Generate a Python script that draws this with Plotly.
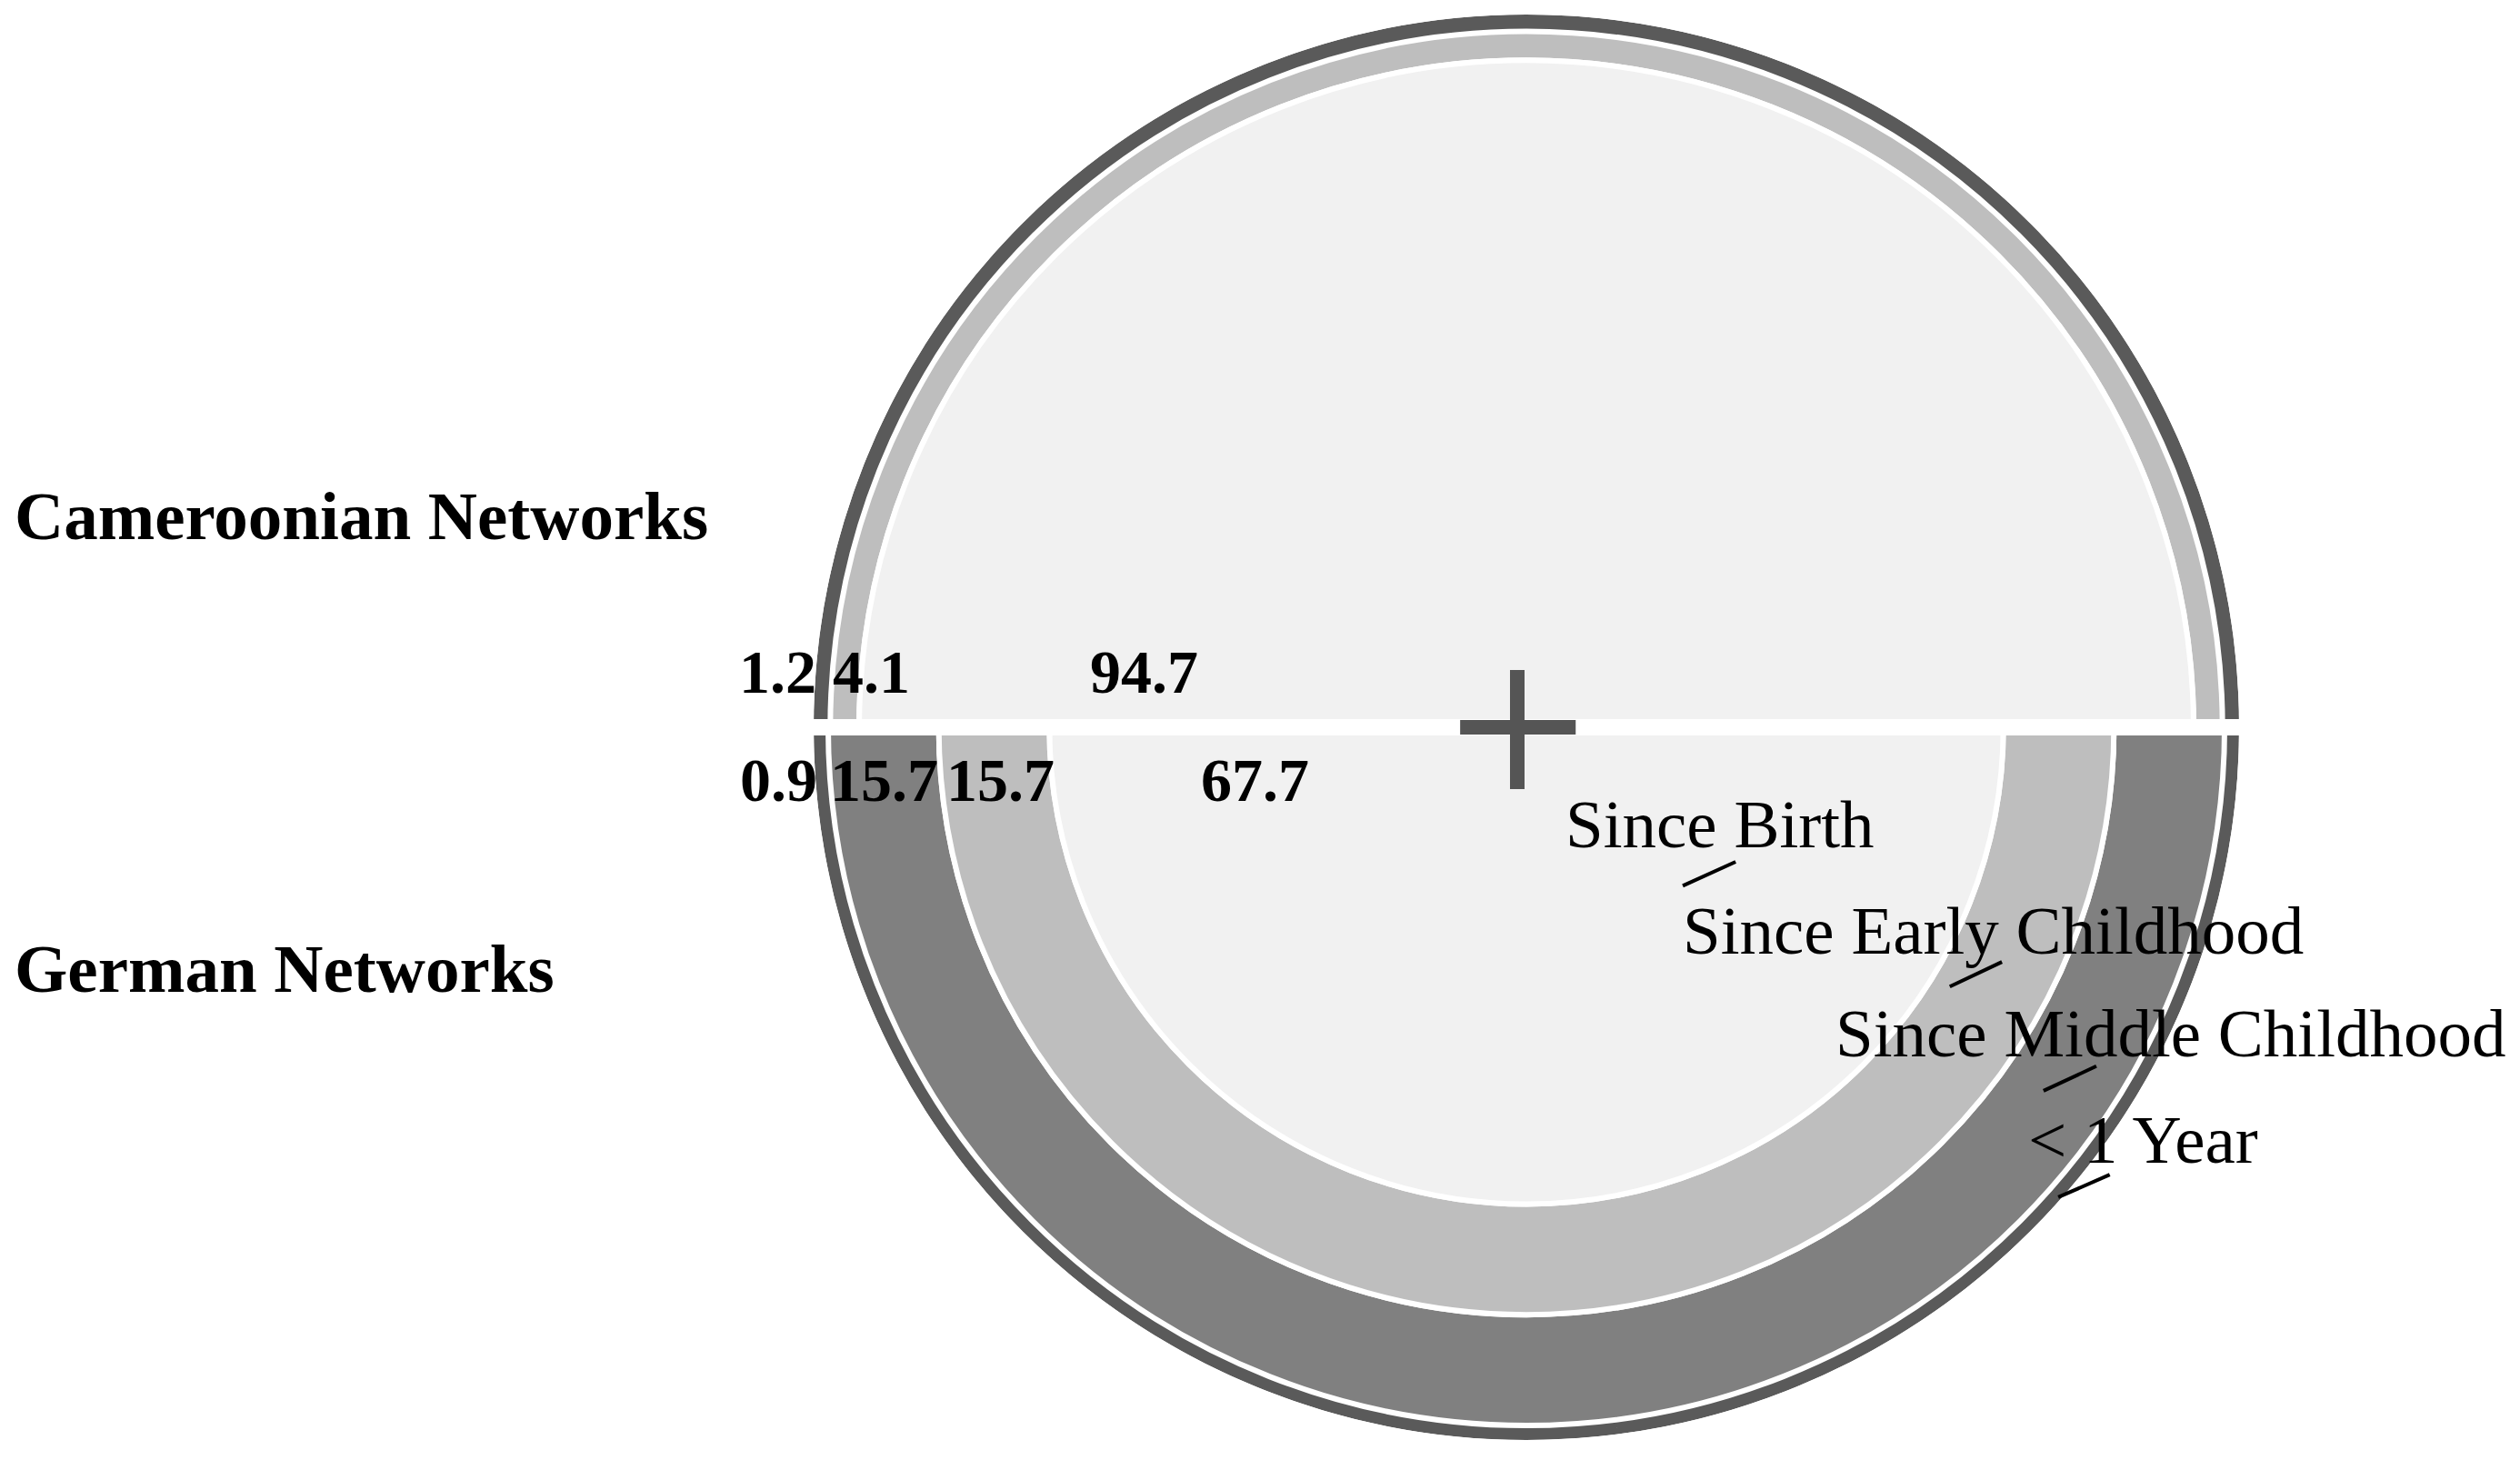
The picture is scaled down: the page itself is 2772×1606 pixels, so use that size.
import numpy as np
import plotly.graph_objects as go

# ---- data: share of network members known for ... (percent) ----
groups = ["Cameroonian Networks", "German Networks"]
categories = ["Since Birth", "Since Early Childhood", "Since Middle Childhood", "< 1 Year"]
cameroon = [94.7, 4.1, 0.0, 1.2]
german = [67.7, 15.7, 15.7, 0.9]

colours = ["#f1f1f1", "#bebebe", "#808080", "#5a5a5a"]

# where the value labels sit along the left radius (axis units, outward = larger)
cam_label_r = [54.3, 93.0, None, 106.2]
ger_label_r = [38.5, 74.6, 91.2, 106.1]

# category labels (left edge, middle) and their short leader ticks, axis units
cat_label_pos = [(5.3, -13.8), (21.9, -28.8), (43.6, -43.4), (71.0, -58.5)]
leaders = [((22.2, -22.5), (29.7, -19.1)),
           ((60.1, -36.8), (67.5, -33.3)),
           ((73.4, -51.6), (80.9, -48.1)),
           ((75.5, -66.7), (82.8, -63.5))]

W, H = 2772, 1606
PAGE_MARGIN = 8                     # browser body margin shifts the figure
CX, CY = 1679 - PAGE_MARGIN, 800 - PAGE_MARGIN   # circle centre in figure px
RPX = 784                           # visible radius in px
S = 7.75                            # px per percent
OUTER_STROKE = 18

polar_x = [(CX - RPX) / W, (CX + RPX) / W]
polar_y = [(H - CY - RPX) / H, (H - CY + RPX) / H]
XR, YR = 120, 100
ov_x = [(CX - XR * S) / W, (CX + XR * S) / W]
ov_y = [(H - CY - YR * S) / H, (H - CY + YR * S) / H]

SERIF = "Liberation Serif, Times New Roman, serif"

cam = np.array(cameroon)
ger = np.array(german)
cam_base = np.concatenate([[0], np.cumsum(cam)[:-1]])
ger_base = np.concatenate([[0], np.cumsum(ger)[:-1]])

fig = go.Figure()

# dummy trace so the overlay cartesian axes exist
fig.add_trace(go.Scatter(x=[None], y=[None], showlegend=False, hoverinfo="skip"))

# outer ring first so inner rings (and their white edges) draw on top
for i in reversed(range(len(categories))):
    outer = i == len(categories) - 1
    fig.add_trace(go.Barpolar(
        r=[cam[i], ger[i]],
        base=[cam_base[i], ger_base[i]],
        theta=[90, 270],
        width=[180, 180],
        name=categories[i],
        marker=dict(
            color=colours[i],
            line=dict(color=colours[i] if outer else "white",
                      width=OUTER_STROKE if outer else 6),
        ),
        showlegend=False,
        hoverinfo="name+r",
    ))

fig.update_layout(
    width=W,
    height=H,
    margin=dict(l=0, r=0, t=0, b=0),
    paper_bgcolor="white",
    plot_bgcolor="rgba(0,0,0,0)",
    showlegend=False,
    polar=dict(
        domain=dict(x=polar_x, y=polar_y),
        bgcolor="rgba(0,0,0,0)",
        barmode="overlay",
        radialaxis=dict(visible=False, range=[0, RPX / S]),
        angularaxis=dict(visible=False),
    ),
    xaxis=dict(domain=ov_x, range=[-XR, XR], visible=False, fixedrange=True),
    yaxis=dict(domain=ov_y, range=[-YR, YR], visible=False, fixedrange=True),
)

# white split between the two halves + centre cross
shapes = [
    dict(type="rect", xref="x", yref="y", x0=-102, x1=102, y0=-1.16, y1=1.16,
         fillcolor="white", line=dict(width=0), layer="above"),
    dict(type="line", xref="x", yref="y", x0=-9.4, x1=7.0, y0=0, y1=0,
         line=dict(color="#555555", width=16), layer="above"),
    dict(type="line", xref="x", yref="y", x0=-1.29, x1=-1.29, y0=8.13, y1=-8.77,
         line=dict(color="#555555", width=16), layer="above"),
]
for (x0, y0), (x1, y1) in leaders:
    shapes.append(dict(type="line", xref="x", yref="y", x0=x0, y0=y0, x1=x1, y1=y1,
                       line=dict(color="black", width=4), layer="above"))
fig.update_layout(shapes=shapes)

annotations = []
# value labels on the left radius
for vals, pos, yoff in [(cameroon, cam_label_r, 7.9), (german, ger_label_r, -7.45)]:
    for v, p in zip(vals, pos):
        if p is None or v == 0:
            continue
        annotations.append(dict(
            x=-p, y=yoff, xref="x", yref="y", text=f"<b>{v:.1f}</b>",
            showarrow=False, xanchor="center", yanchor="middle",
            font=dict(family=SERIF, size=68, color="black"),
        ))

# category names
for name, (x, y) in zip(categories, cat_label_pos):
    annotations.append(dict(
        x=x, y=y, xref="x", yref="y", text=name, showarrow=False,
        xanchor="left", yanchor="middle",
        font=dict(family=SERIF, size=75, color="black"),
    ))

# group titles on the left
for name, y in zip(groups, [0.6519, 0.3415]):
    annotations.append(dict(
        x=6 / W, y=y, xref="paper", yref="paper", text=f"<b>{name}</b>",
        showarrow=False, xanchor="left", yanchor="middle",
        font=dict(family=SERIF, size=75, color="black"),
    ))

fig.update_layout(annotations=annotations)

fig.write_html("out.html")
